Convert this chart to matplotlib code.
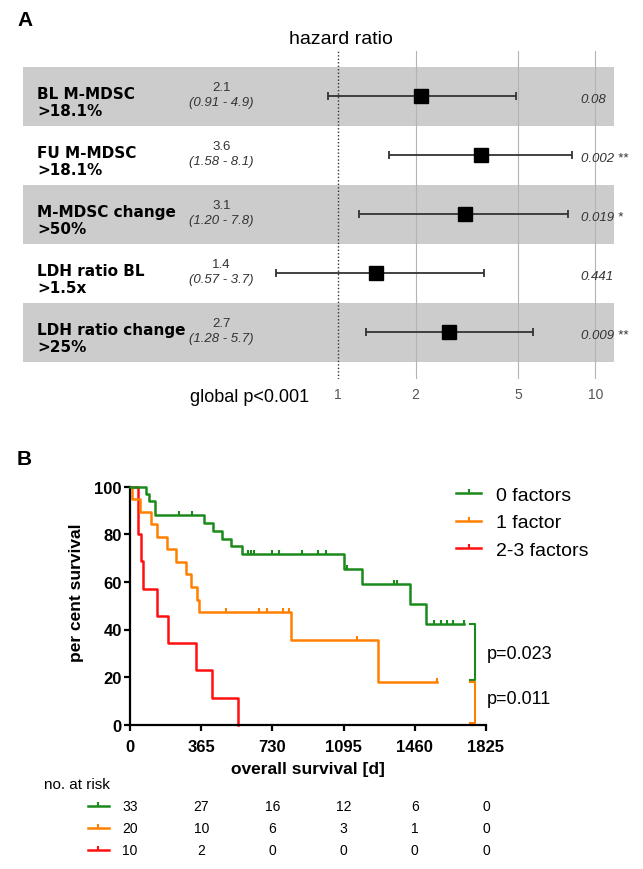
import numpy as np
import matplotlib
matplotlib.use("Agg")
import matplotlib.pyplot as plt
from matplotlib.lines import Line2D
from matplotlib import transforms

plt.rcParams['font.family'] = ['Liberation Sans', 'DejaVu Sans']

# ---- panel A data (Cox model) ----
factors = ["BL M-MDSC\n>18.1%", "FU M-MDSC\n>18.1%", "M-MDSC change\n>50%",
           "LDH ratio BL\n>1.5x", "LDH ratio change\n>25%"]
hr = [2.1, 3.6, 3.1, 1.4, 2.7]
ci_low = [0.91, 1.58, 1.20, 0.57, 1.28]
ci_high = [4.9, 8.1, 7.8, 3.7, 5.7]
ci_text = ["(0.91 - 4.9)", "(1.58 - 8.1)", "(1.20 - 7.8)", "(0.57 - 3.7)", "(1.28 - 5.7)"]
p_text = ["0.08", "0.002 **", "0.019 *", "0.441", "0.009 **"]
hr_ticks = [1, 2, 5, 10]

# ---- panel B data (Kaplan-Meier) ----
groups = ["0 factors", "1 factor", "2-3 factors"]
colors = ["#1a8a1a", "#ff8000", "#ff1010"]
event_t = [
    [80, 97, 128, 379, 427, 470, 518, 572, 1097, 1191, 1435, 1515],
    [12, 51, 108, 137, 188, 236, 288, 314, 346, 355, 823, 1273],
    [43, 56, 68, 140, 196, 337, 419, 552],
]
event_s = [
    [97.0, 93.9, 87.9, 84.6, 81.4, 78.1, 74.9, 71.6, 65.6, 59.1, 50.7, 42.2],
    [94.7, 89.5, 84.2, 78.9, 73.7, 68.4, 63.2, 57.9, 52.6, 47.4, 35.5, 17.8],
    [80.0, 68.6, 57.1, 45.7, 34.3, 22.9, 11.4, 0.0],
]
censor_t = [
    [253, 316, 606, 620, 634, 727, 765, 881, 963, 1005, 1111, 1355, 1368,
     1558, 1592, 1623, 1654, 1710],
    [490, 661, 700, 786, 815, 1162, 1572],
    [],
]
p_vals = ["p=0.023", "p=0.011"]
risk_days = [0, 365, 730, 1095, 1460, 1825]
at_risk = [[33, 27, 16, 12, 6, 0],
           [20, 10, 6, 3, 1, 0],
           [10, 2, 0, 0, 0, 0]]

W, H = 643, 870
fig = plt.figure(figsize=(W / 100, H / 100), dpi=100)
tick = [(0, 0), (0, 1)]

# ================= panel A =================
axA = fig.add_axes([22.6 / W, 1 - 380 / H, 591.3 / W, 328.3 / H])
axA.set_xscale('log')
axA.set_xlim(0.0592, 11.8)
axA.set_ylim(4.793, -0.771)
rows = np.arange(len(factors))
for i in rows:
    if i % 2 == 0:
        axA.axhspan(i - 0.5, i + 0.5, color='#cccccc', lw=0, zorder=0)
for v in hr_ticks[1:]:
    axA.axvline(v, color='#b4b4b4', lw=0.8, zorder=1)
axA.axvline(1, color='#333333', lw=1, ls=(0, (1, 1.5)), zorder=1)
hr_a = np.array(hr)
axA.errorbar(hr_a, rows, xerr=[hr_a - np.array(ci_low), np.array(ci_high) - hr_a],
             fmt='none', ecolor='#333333', elinewidth=1.3, capsize=3, capthick=1.3, zorder=2)
axA.plot(hr_a, rows, 's', color='black', ms=10, zorder=3)
bt = transforms.blended_transform_factory(axA.transAxes, axA.transData)
for i in rows:
    axA.text(0.0242, i + 0.1, factors[i], transform=bt, ha='left', va='center',
             fontsize=11, fontweight='bold', family='DejaVu Sans', linespacing=1.15)
    axA.text(0.3362, i - 0.16, f"{hr[i]}", transform=bt, ha='center', va='center',
             fontsize=9.5, color='#333333')
    axA.text(0.3362, i + 0.1, ci_text[i], transform=bt, ha='center', va='center',
             fontsize=9.5, color='#333333', style='italic')
    axA.text(0.944, i + 0.04, p_text[i], transform=bt, ha='left', va='center',
             fontsize=9.5, color='#333333', style='italic')
axA.set_xticks(hr_ticks)
axA.set_xticklabels([str(v) for v in hr_ticks])
axA.xaxis.set_minor_locator(plt.NullLocator())
axA.tick_params(axis='x', length=0, pad=6, labelsize=10, labelcolor='#555555')
axA.set_yticks([])
for s in axA.spines.values():
    s.set_visible(False)
axA.patch.set_alpha(0)

fig.text(24.6 / W, 1 - 20 / H, "A", fontsize=15, fontweight='bold', ha='center', va='center')
fig.text(341.4 / W, 1 - 40 / H, "hazard ratio", fontsize=14, ha='center', va='center')
fig.text(250 / W, 1 - 398 / H, "global p<0.001", fontsize=13, ha='center', va='center')

# ================= panel B =================
axB = fig.add_axes([130 / W, 1 - 725.7 / H, 356 / W, 238 / H])
for k in range(3):
    t = np.r_[0, event_t[k]]
    s = np.r_[100, event_s[k]]
    end = max(censor_t[k]) if censor_t[k] else event_t[k][-1]
    axB.step(np.r_[t, end], np.r_[s, s[-1]], where='post', color=colors[k],
             lw=1.8, clip_on=False, zorder=3 - k)
    if censor_t[k]:
        c = np.array(censor_t[k])
        lvl = s[np.searchsorted(t, c, side='right') - 1]
        axB.plot(c, lvl, ls='none', marker=tick, ms=6, mew=1.5, color=colors[k],
                 clip_on=False, zorder=4)

# brackets comparing end levels
ends = [event_s[0][-1], event_s[1][-1], event_s[2][-1]]
bx = 1768
axB.plot([bx - 25, bx, bx, bx - 25], [ends[0], ends[0], ends[1] + 1, ends[1] + 1],
         color=colors[0], lw=1.5, clip_on=False)
axB.plot([bx - 25, bx, bx, bx - 25], [ends[1], ends[1], ends[2] + 0.7, ends[2] + 0.7],
         color=colors[1], lw=1.5, clip_on=False)
axB.text(1828, 30, p_vals[0], fontsize=13, va='center', ha='left')
axB.text(1828, 10.8, p_vals[1], fontsize=13, va='center', ha='left')

axB.set_xlim(0, 1825)
axB.set_ylim(0, 100)
axB.set_xticks(risk_days)
axB.set_yticks([0, 20, 40, 60, 80, 100])
for s in ['top', 'right']:
    axB.spines[s].set_visible(False)
for s in ['left', 'bottom']:
    axB.spines[s].set_linewidth(1.6)
axB.tick_params(width=1.6, length=4, labelsize=12)
axB.tick_params(axis='y', pad=2)
axB.tick_params(axis='x', pad=6.5)
for lab in axB.get_xticklabels() + axB.get_yticklabels():
    lab.set_fontweight('bold')
axB.set_xlabel("overall survival [d]", fontsize=12.5, fontweight='bold', labelpad=5)
axB.set_ylabel("per cent survival", fontsize=12.5, fontweight='bold')
axB.yaxis.set_label_coords(-0.129, 0.557)

handles = [Line2D([0], [0], color=c, lw=1.8, marker=tick, ms=6, mew=1.5) for c in colors]
fig.legend(handles, groups, loc='upper left', bbox_to_anchor=(456 / W, 1 - 487 / H),
           frameon=False, fontsize=14, handlelength=1.3, handletextpad=0.75,
           labelspacing=0.52, borderpad=0, borderaxespad=0)

fig.text(77 / W, 1 - 785 / H, "no. at risk", fontsize=11, ha='center', va='center')
fig.text(24.5 / W, 1 - 460 / H, "B", fontsize=15, fontweight='bold', ha='center', va='center')

bt2 = transforms.blended_transform_factory(axB.transData, fig.transFigure)
row_y = [806.7, 829, 850.7]
for k in range(3):
    yf = 1 - row_y[k] / H
    fig.add_artist(Line2D([88 / W, 98.3 / W, 108.7 / W], [yf, yf, yf], color=colors[k],
                          lw=1.8, marker=tick, ms=6, mew=1.5, markevery=[1]))
    for d, n in zip(risk_days, at_risk[k]):
        axB.text(d, yf, str(n), transform=bt2, ha='center', va='center', fontsize=10)

fig.savefig("out.png", dpi=100)
